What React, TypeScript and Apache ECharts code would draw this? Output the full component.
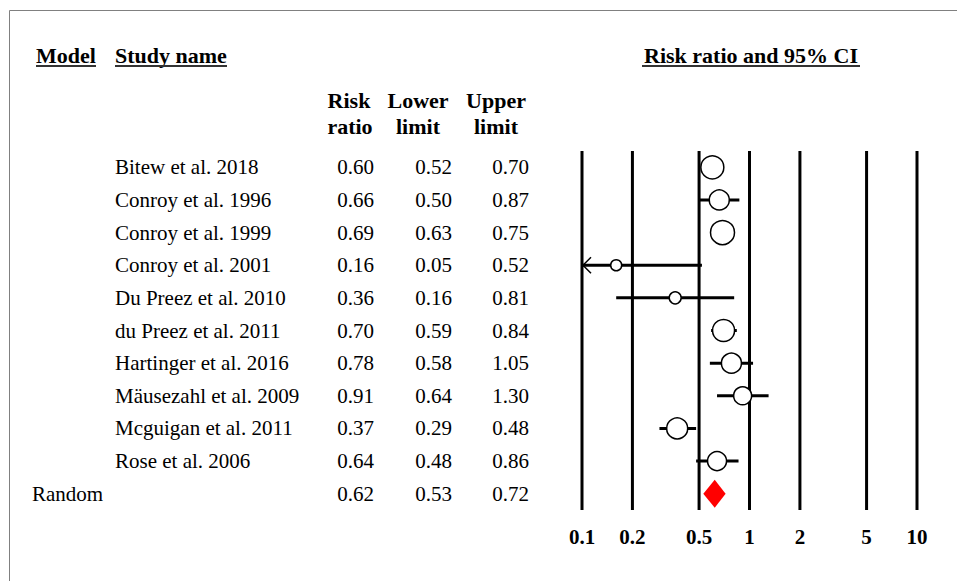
import React, { useEffect, useRef } from "react";
import * as echarts from "echarts";

const studyNames = [
  "Bitew et al. 2018",
  "Conroy et al. 1996",
  "Conroy et al. 1999",
  "Conroy et al. 2001",
  "Du Preez et al. 2010",
  "du Preez et al. 2011",
  "Hartinger et al. 2016",
  "Mäusezahl et al. 2009",
  "Mcguigan et al. 2011",
  "Rose et al. 2006",
];
const riskRatio = [0.6, 0.66, 0.69, 0.16, 0.36, 0.7, 0.78, 0.91, 0.37, 0.64];
const lowerLimit = [0.52, 0.5, 0.63, 0.05, 0.16, 0.59, 0.58, 0.64, 0.29, 0.48];
const upperLimit = [0.7, 0.87, 0.75, 0.52, 0.81, 0.84, 1.05, 1.3, 0.48, 0.86];
const markerDiameter = [23, 20, 24, 11, 12, 22, 20, 18, 21, 19];

const pooledLabel = "Random";
const pooledRatio = 0.62;
const pooledLower = 0.53;
const pooledUpper = 0.72;

const tickValues = [0.1, 0.2, 0.5, 1, 2, 5, 10];
const tickLabels = ["0.1", "0.2", "0.5", "1", "2", "5", "10"];

const FONT = "'Liberation Serif', 'Times New Roman', Times, serif";
const AXIS_MIN = 0.1;
const AXIS_MAX = 10;
const ROW_MIN = -0.5;
const ROW_MAX = 10.5;

const fmt = (v: number) => v.toFixed(2);

export default function App() {
  const ref = useRef<HTMLDivElement>(null);

  useEffect(() => {
    if (!ref.current) return;
    const chart = echarts.init(ref.current, undefined, { renderer: "svg" });

    const studyRows = studyNames.map((_, i) => [
      riskRatio[i],
      i,
      lowerLimit[i],
      upperLimit[i],
      markerDiameter[i],
    ]);
    const pooledRow = studyNames.length;

    const headerText = (text: string, x: number, y: number, align: string) => ({
      type: "text",
      x,
      y,
      style: {
        text,
        fill: "#000",
        fontFamily: FONT,
        fontWeight: "bold",
        fontSize: 22,
        align,
        verticalAlign: "middle",
      },
    });
    const underline = (x1: number, x2: number, y: number) => ({
      type: "rect",
      shape: { x: x1, y, width: x2 - x1, height: 2 },
      style: { fill: "#333" },
    });

    const option: any = {
      animation: false,
      backgroundColor: "#fff",
      grid: { left: 582, right: 40, top: 151, bottom: 71, containLabel: false },
      xAxis: {
        type: "log",
        logBase: 10,
        min: AXIS_MIN,
        max: AXIS_MAX,
        show: false,
      },
      yAxis: {
        type: "value",
        min: ROW_MIN,
        max: ROW_MAX,
        inverse: true,
        show: false,
      },
      graphic: [
        {
          type: "line",
          shape: { x1: 9.5, y1: 10.5, x2: 957, y2: 10.5 },
          style: { stroke: "#808080", lineWidth: 1 },
        },
        {
          type: "line",
          shape: { x1: 9.5, y1: 10.5, x2: 9.5, y2: 581 },
          style: { stroke: "#808080", lineWidth: 1 },
        },
        headerText("Model", 36, 55, "left"),
        underline(36, 96, 65),
        headerText("Study name", 115, 55, "left"),
        underline(115, 227, 65),
        headerText("Risk ratio and 95% CI", 751, 55, "center"),
        underline(642, 860, 65),
        headerText("Risk", 349, 100, "center"),
        headerText("ratio", 350, 126, "center"),
        headerText("Lower", 418, 100, "center"),
        headerText("limit", 418, 126, "center"),
        headerText("Upper", 496, 100, "center"),
        headerText("limit", 496, 126, "center"),
      ],
      series: [
        {
          type: "custom",
          name: "ticks",
          data: tickValues.map((v, i) => [v, 0, i]),
          encode: { x: 0, y: 1 },
          renderItem: (params: any, api: any) => {
            const v = api.value(0);
            const idx = api.value(2);
            const top = api.coord([v, ROW_MIN]);
            const bot = api.coord([v, ROW_MAX]);
            return {
              type: "group",
              children: [
                {
                  type: "line",
                  shape: { x1: top[0], y1: top[1], x2: bot[0], y2: bot[1] },
                  style: { stroke: "#000", lineWidth: 3 },
                },
                {
                  type: "text",
                  x: bot[0],
                  y: bot[1] + 27,
                  style: {
                    text: tickLabels[idx],
                    fill: "#000",
                    fontFamily: FONT,
                    fontWeight: "bold",
                    fontSize: 21,
                    align: "center",
                    verticalAlign: "middle",
                  },
                },
              ],
            };
          },
        },
        {
          type: "custom",
          name: "studies",
          data: studyRows,
          encode: { x: 0, y: 1 },
          renderItem: (params: any, api: any) => {
            const rr = api.value(0);
            const row = api.value(1);
            const lo = api.value(2);
            const hi = api.value(3);
            const d = api.value(4);
            const c = api.coord([rr, row]);
            const clipped = lo < AXIS_MIN;
            const l = api.coord([Math.max(lo, AXIS_MIN), row]);
            const r = api.coord([Math.min(hi, AXIS_MAX), row]);
            const children: any[] = [
              {
                type: "line",
                shape: { x1: l[0], y1: l[1], x2: r[0], y2: r[1] },
                style: { stroke: "#000", lineWidth: 3 },
              },
            ];
            if (clipped) {
              children.push({
                type: "polyline",
                shape: {
                  points: [
                    [l[0] + 9, l[1] - 8],
                    [l[0] + 1, l[1]],
                    [l[0] + 9, l[1] + 8],
                  ],
                },
                style: { stroke: "#000", lineWidth: 1.5, fill: "none" },
              });
            }
            children.push({
              type: "circle",
              shape: { cx: c[0], cy: c[1], r: d / 2 },
              style: { fill: "#fff", stroke: "#000", lineWidth: 1.5 },
            });
            return { type: "group", children };
          },
        },
        {
          type: "custom",
          name: "pooled",
          data: [[pooledRatio, pooledRow, pooledLower, pooledUpper]],
          encode: { x: 0, y: 1 },
          renderItem: (params: any, api: any) => {
            const row = api.value(1);
            const c = api.coord([api.value(0), row]);
            const l = api.coord([api.value(2), row]);
            const r = api.coord([api.value(3), row]);
            return {
              type: "polygon",
              shape: {
                points: [
                  [l[0], l[1]],
                  [c[0], c[1] - 14],
                  [r[0], r[1]],
                  [c[0], c[1] + 14],
                ],
              },
              style: { fill: "#ff0000", stroke: "none" },
            };
          },
        },
        {
          type: "custom",
          name: "table",
          data: [
            ...studyNames.map((_, i) => [AXIS_MIN, i, riskRatio[i], lowerLimit[i], upperLimit[i], i]),
            [AXIS_MIN, pooledRow, pooledRatio, pooledLower, pooledUpper, -1],
          ],
          encode: { x: 0, y: 1 },
          renderItem: (params: any, api: any) => {
            const row = api.value(1);
            const y = api.coord([AXIS_MIN, row])[1];
            const idx = api.value(5);
            const isPooled = idx < 0;
            const base = {
              fill: "#000",
              fontFamily: FONT,
              fontSize: 21,
              verticalAlign: "middle",
            };
            const label = isPooled ? pooledLabel : studyNames[idx];
            return {
              type: "group",
              children: [
                {
                  type: "text",
                  x: isPooled ? 32 : 115,
                  y,
                  style: { ...base, text: label, align: "left" },
                },
                {
                  type: "text",
                  x: 374,
                  y,
                  style: { ...base, text: fmt(api.value(2)), align: "right" },
                },
                {
                  type: "text",
                  x: 452,
                  y,
                  style: { ...base, text: fmt(api.value(3)), align: "right" },
                },
                {
                  type: "text",
                  x: 529,
                  y,
                  style: { ...base, text: fmt(api.value(4)), align: "right" },
                },
              ],
            };
          },
        },
      ],
    };

    chart.setOption(option);
    return () => chart.dispose();
  }, []);

  return (
    <div
      ref={ref}
      style={{ position: "fixed", left: 0, top: 0, width: 957, height: 581 }}
    />
  );
}
